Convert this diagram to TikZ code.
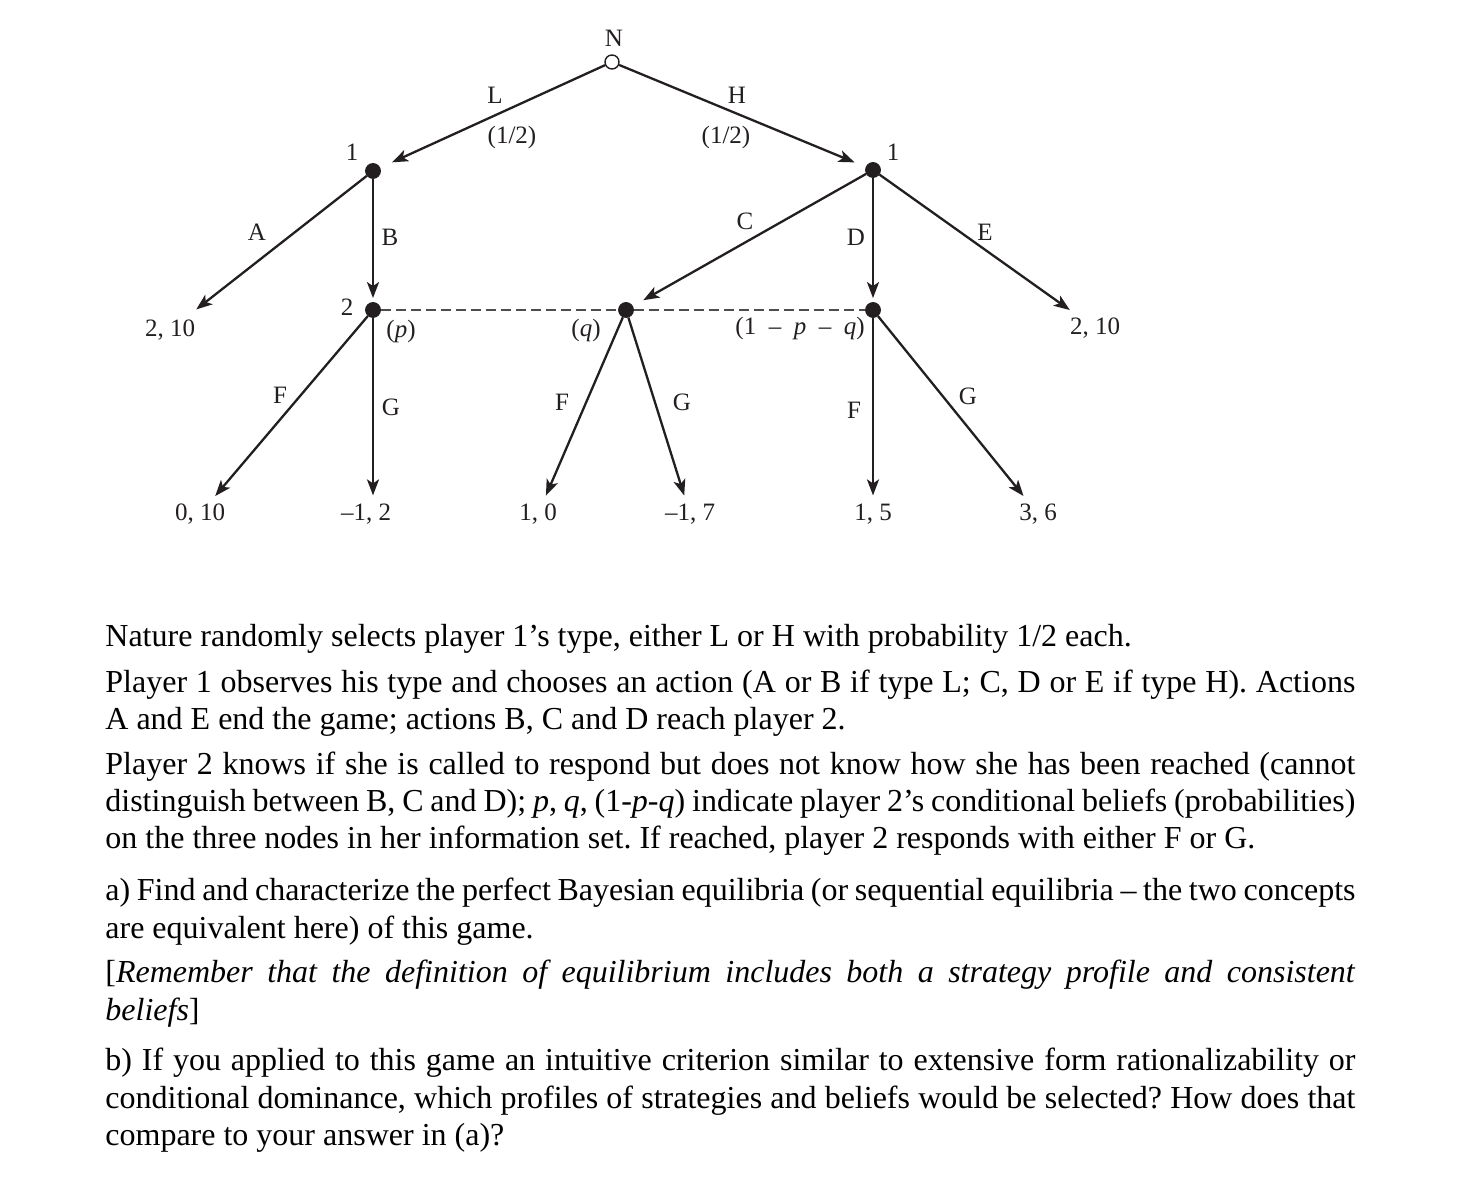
\documentclass[tikz,border=0pt]{standalone}
\usepackage{fontspec}
\setmainfont{Liberation Serif}
\usetikzlibrary{arrows.meta}
\definecolor{lc}{HTML}{231F20}
\newcommand{\jline}[1]{\makebox[625pt][s]{#1}}
\frenchspacing
\begin{document}
\begin{tikzpicture}[x=0.5pt,y=-0.5pt,
  dot/.style={circle, fill=lc, draw=lc, inner sep=0pt, minimum size=7.5pt},
  chance/.style={circle, draw=lc, fill=white, line width=0.7pt, inner sep=0pt, minimum size=7pt},
  lab/.style={font=\fontsize{12.5}{14}\selectfont, inner sep=0pt, text=lc},
  pay/.style={font=\fontsize{12.5}{14}\selectfont, inner sep=2.5pt, text=lc},
  arr/.style={-{Stealth[length=8pt,width=6pt,inset=2pt]}, line width=1.15pt, draw=lc},
  info/.style={dash pattern=on 5pt off 2.5pt, line width=1pt, draw=lc!80},
  body/.style={font=\fontsize{16}{19}\selectfont, inner sep=0pt, anchor=base west}]
\useasboundingbox[fill=white] (0,0) rectangle (1472,1186);

% decision nodes
\node[chance] (N) at (612,62) {};
\node[dot] (n1L) at (373,171) {};
\node[dot] (n1H) at (873,170) {};
\node[dot] (n2a) at (373,310) {};
\node[dot] (n2b) at (626,310) {};
\node[dot] (n2c) at (873,310) {};

% payoffs
\node[pay] (zA) at (170,330) {2, 10};
\node[pay] (zE) at (1095,328) {2, 10};
\node[pay] (z1) at (200,514) {0, 10};
\node[pay] (z2) at (366,514) {–1, 2};
\node[pay] (z3) at (538,514) {1, 0};
\node[pay] (z4) at (690,514) {–1, 7};
\node[pay] (z5) at (873,514) {1, 5};
\node[pay] (z6) at (1038,514) {3, 6};

% information set
\draw[info] (n2a) -- (n2b) -- (n2c);

% moves
\draw[arr, shorten >=6.5pt] (N) -- (n1L);
\draw[arr, shorten >=6pt] (N) -- (n1H);
\draw[arr, shorten >=4pt] (n1L) -- (zA);
\draw[arr, shorten >=2pt] (n1L) -- (n2a);
\draw[arr, shorten >=6pt] (n1H) -- (n2b);
\draw[arr, shorten >=2pt] (n1H) -- (n2c);
\draw[arr, shorten >=2pt] (n1H) -- (zE);
\draw[arr, shorten >=1.5pt] (n2a) -- (z1);
\draw[arr, shorten >=1.5pt] (n2a) -- (n2a |- z2.north);
\draw[arr, shorten >=1.5pt] (n2b) -- (z3);
\draw[arr, shorten >=1.5pt] (n2b) -- (z4);
\draw[arr, shorten >=1.5pt] (n2c) -- (n2c |- z5.north);
\draw[arr, shorten >=1.5pt] (n2c) -- (z6);

% labels
\node[lab] (lN) at (614,38) {N};
\node[lab] (l1a) at (352,152) {1};
\node[lab] (l1b) at (893,152) {1};
\node[lab] (l2) at (347,307) {2};
\node[lab] (lL) at (495,95) {L};
\node[lab] (lLp) at (512,137) {(1/2)};
\node[lab] (lH) at (737,95) {H};
\node[lab] (lHp) at (726,137) {(1/2)};
\node[lab] (lA) at (257,232) {A};
\node[lab] (lB) at (390,237) {B};
\node[lab] (lC) at (745,221) {C};
\node[lab] (lD) at (856,237) {D};
\node[lab] (lE) at (985,232) {E};
\node[lab] (lp) at (401,331) {(\textit{p})};
\node[lab] (lq) at (586,330) {(\textit{q})};
\node[lab] (lr) at (800,328) {(1\enspace–\enspace\textit{p}\enspace–\enspace\textit{q})};
\node[lab] (lF1) at (280,395) {F};
\node[lab] (lG1) at (391,407) {G};
\node[lab] (lF2) at (562,402) {F};
\node[lab] (lG2) at (682,402) {G};
\node[lab] (lF3) at (854,410) {F};
\node[lab] (lG3) at (968,396) {G};

% text
\node[body] (t1) at (105,647) {Nature randomly selects player 1’s type, either L or H with probability 1/2 each.};
\node[body] (t2) at (105,693) {\jline{Player 1 observes his type and chooses an action (A or B if type L; C, D or E if type H). Actions}};
\node[body] (t3) at (105,730) {A and E end the game; actions B, C and D reach player 2.};
\node[body] (t4) at (105,775) {\jline{Player 2 knows if she is called to respond but does not know how she has been reached (cannot}};
\node[body] (t5) at (105,811) {\jline{distinguish between B, C and D); \textit{p}, \textit{q}, (1-\textit{p}-\textit{q}) indicate player 2’s conditional beliefs (probabilities)}};
\node[body] (t6) at (105,848) {on the three nodes in her information set. If reached, player 2 responds with either F or G.};
\node[body] (t7) at (105,900) {\jline{a) Find and characterize the perfect Bayesian equilibria (or sequential equilibria – the two concepts}};
\node[body] (t8) at (105,938) {are equivalent here) of this game.};
\node[body] (t9) at (105,982) {\jline{[\textit{Remember that the definition of equilibrium includes both a strategy profile and consistent}}};
\node[body] (t10) at (105,1020) {\textit{beliefs}]};
\node[body] (t11) at (105,1070) {\jline{b) If you applied to this game an intuitive criterion similar to extensive form rationalizability or}};
\node[body] (t12) at (105,1108) {\jline{conditional dominance, which profiles of strategies and beliefs would be selected? How does that}};
\node[body] (t13) at (105,1145) {compare to your answer in (a)?};
\end{tikzpicture}
\end{document}
